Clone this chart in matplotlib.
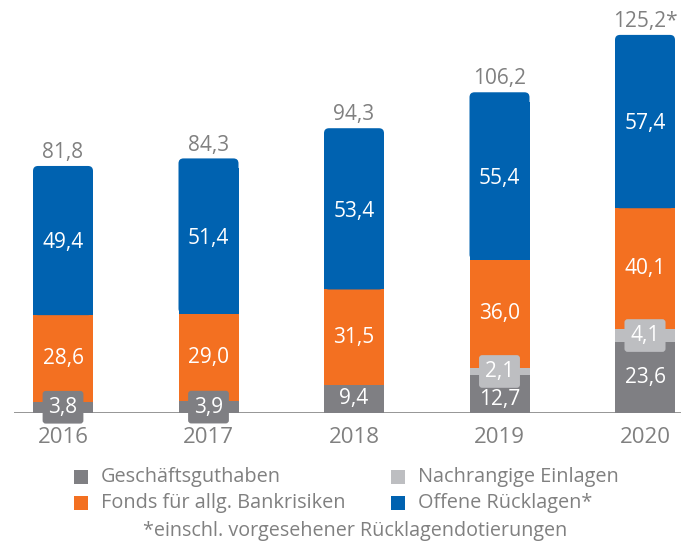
import matplotlib
matplotlib.use("Agg")
import matplotlib.pyplot as plt
from matplotlib.patches import FancyBboxPatch, Rectangle

years = ["2016", "2017", "2018", "2019", "2020"]
geschaeft = [3.8, 3.9, 9.4, 12.7, 23.6]
nachrangig = [0.0, 0.0, 0.0, 2.1, 4.1]
fonds = [28.6, 29.0, 31.5, 36.0, 40.1]
offene = [49.4, 51.4, 53.4, 55.4, 57.4]
totals = ["81,8", "84,3", "94,3", "106,2", "125,2*"]
series_names = ["Geschäftsguthaben", "Nachrangige Einlagen",
                "Fonds für allg. Bankrisiken", "Offene Rücklagen*"]
footnote = "*einschl. vorgesehener Rücklagendotierungen"

C_DARK = "#7f7f83"
C_LIGHT = "#bdbec1"
C_ORANGE = "#f37021"
C_BLUE = "#0062b0"
C_TEXT = "#808080"

plt.rcParams['font.family'] = ['Open Sans', 'DejaVu Sans']

W, H = 681, 544
fig = plt.figure(figsize=(W / 100, H / 100), dpi=100)
ax_left, ax_bottom = 14, 131
ax = fig.add_axes([ax_left / W, ax_bottom / H, (W - ax_left) / W, (H - ax_bottom) / H])

x = list(range(len(years)))
px_per_x = 145.5
px_per_y = 3.02
ax.set_xlim(-(63 - ax_left) / px_per_x, (W - ax_left) / px_per_x - (63 - ax_left) / px_per_x)
ax.set_ylim(0, (H - ax_bottom) / px_per_y)
bw = 60 / px_per_x

fmt = lambda v: f"{v:.1f}".replace(".", ",")

b1 = [g for g in geschaeft]
b2 = [g + n for g, n in zip(geschaeft, nachrangig)]
b3 = [g + n + f for g, n, f in zip(geschaeft, nachrangig, fonds)]

ax.bar(x, geschaeft, bw, color=C_DARK, zorder=2)
ax.bar(x, nachrangig, bw, bottom=b1, color=C_LIGHT, zorder=2)
ax.bar(x, fonds, bw, bottom=b2, color=C_ORANGE, zorder=2)
r_px = 5
ax.bar(x, [o - 10 / px_per_y for o in offene], bw, bottom=b3, color=C_BLUE, zorder=2)
asp = px_per_x / px_per_y
for xi, b, o in zip(x, b3, offene):
    p = FancyBboxPatch((xi - bw / 2, b), bw, o,
                       boxstyle=f"round,pad=0,rounding_size={r_px / px_per_x}",
                       mutation_aspect=asp, fc=C_BLUE, ec="none", zorder=2)
    ax.add_patch(p)

ax.axhline(0, color="#8c8c8c", lw=2, zorder=1)

fs_val = 15
box_kw = dict(boxstyle="round,pad=0.28,rounding_size=0.15", ec="none")
for xi in x:
    g, n, f, o = geschaeft[xi], nachrangig[xi], fonds[xi], offene[xi]
    if g < 6:
        ax.text(xi, g / 2, fmt(g), ha="center", va="center", color="white", fontsize=fs_val,
                bbox=dict(fc=C_DARK, **box_kw), zorder=4)
    elif n > 0 and g < 15:
        ax.text(xi, g / 2 - 1.8, fmt(g), ha="center", va="center", color="white", fontsize=fs_val, zorder=4)
    else:
        ax.text(xi, g / 2, fmt(g), ha="center", va="center", color="white", fontsize=fs_val, zorder=4)
    if n > 0:
        ax.text(xi, g + n / 2, fmt(n), ha="center", va="center", color="white", fontsize=fs_val,
                bbox=dict(fc=C_LIGHT, **box_kw), zorder=5)
    ax.text(xi, g + n + f / 2, fmt(f), ha="center", va="center", color="white", fontsize=fs_val, zorder=4)
    ax.text(xi, g + n + f + o / 2 - 0.8, fmt(o), ha="center", va="center", color="white", fontsize=fs_val, zorder=4)
    ax.annotate(totals[xi], (xi, g + n + f + o), xytext=(0, 2), textcoords="offset points",
                ha="center", va="bottom", color=C_TEXT, fontsize=fs_val, zorder=4)

ax.set_xticks(x)
ax.set_xticklabels(years, fontsize=16, color=C_TEXT)
ax.tick_params(axis="x", length=0, pad=10)
ax.set_yticks([])
for s in ax.spines.values():
    s.set_visible(False)
ax.patch.set_alpha(0)

colors = [C_DARK, C_LIGHT, C_ORANGE, C_BLUE]
pos = [(74, 477), (391, 477), (74, 503), (391, 503)]
for (lx, ly), c, name in zip(pos, colors, series_names):
    fig.patches.append(Rectangle((lx / W, 1 - (ly + 7) / H), 14 / W, 14 / H,
                                 transform=fig.transFigure, fc=c, ec="none"))
    fig.text((lx + 27) / W, 1 - ly / H, name, ha="left", va="center", fontsize=14.3,
             color=C_TEXT)
fig.text(355 / W, 1 - 531 / H, footnote, ha="center", va="center", fontsize=14.2,
         color=C_TEXT)

fig.savefig("out.png", dpi=100)
